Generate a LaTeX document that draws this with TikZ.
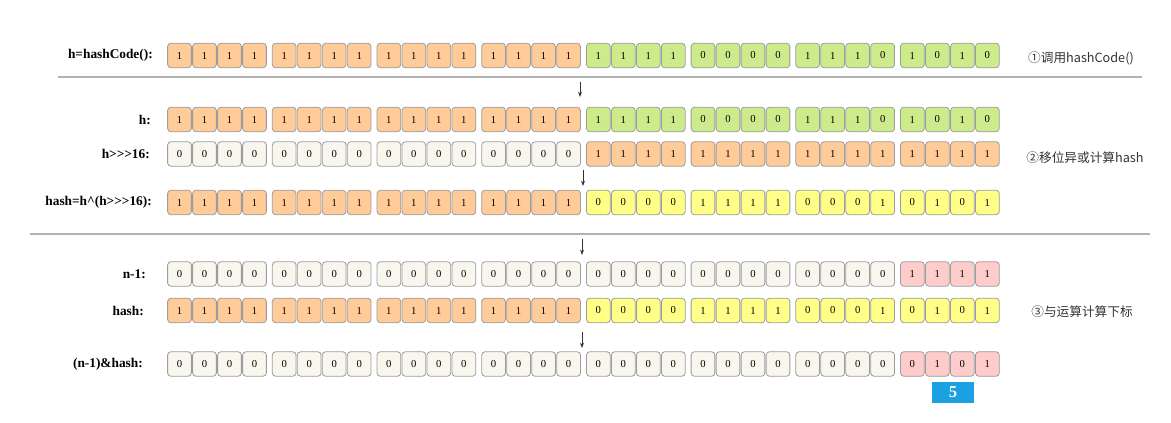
\documentclass[tikz,border=0pt]{standalone}
\usepackage{fontspec}
\setmainfont{Liberation Serif}[Ligatures=TeXOff]
\newfontfamily\cjk{Noto Sans CJK SC}
\usepackage{xcolor}
\definecolor{hmo}{RGB}{255,204,153}
\definecolor{hmg}{RGB}{205,235,139}
\definecolor{hmy}{RGB}{255,255,136}
\definecolor{hmb}{RGB}{249,247,237}
\definecolor{hmp}{RGB}{255,204,204}
\definecolor{hmblue}{RGB}{27,161,226}
\definecolor{hmline}{RGB}{54,57,61}
\usetikzlibrary{arrows.meta,positioning}

\begin{document}
\begin{tikzpicture}[x=0.75pt,y=-0.75pt,
  bitcell/.style={draw=hmline!50,line width=0.6pt,rounded corners=2.5pt,minimum width=17.8pt,minimum height=18.4pt,inner sep=0pt,font=\fontsize{8}{9}\selectfont},
  rowlabel/.style={anchor=east,inner sep=0pt,font=\fontsize{10}{12}\selectfont\bfseries},
  steplabel/.style={inner sep=0pt,text=black!80,font=\cjk\fontsize{9.5}{11}\selectfont},
  sepline/.style={draw=black!30,line width=1.3pt},
  downarrow/.style={-{Stealth[length=4pt,width=3pt]},black!80,line width=0.6pt}]
  \useasboundingbox (0,0) rectangle (1171,423);

  % bit rows: row / y / groups of four (colour/bits)
  \foreach \rw/\yy/\grp in {
    1/55.5/{o/1/1/1/1,o/1/1/1/1,o/1/1/1/1,o/1/1/1/1,g/1/1/1/1,g/0/0/0/0,g/1/1/1/0,g/1/0/1/0},
    2/119.5/{o/1/1/1/1,o/1/1/1/1,o/1/1/1/1,o/1/1/1/1,g/1/1/1/1,g/0/0/0/0,g/1/1/1/0,g/1/0/1/0},
    3/154/{b/0/0/0/0,b/0/0/0/0,b/0/0/0/0,b/0/0/0/0,o/1/1/1/1,o/1/1/1/1,o/1/1/1/1,o/1/1/1/1},
    4/202.5/{o/1/1/1/1,o/1/1/1/1,o/1/1/1/1,o/1/1/1/1,y/0/0/0/0,y/1/1/1/1,y/0/0/0/1,y/0/1/0/1},
    5/274/{b/0/0/0/0,b/0/0/0/0,b/0/0/0/0,b/0/0/0/0,b/0/0/0/0,b/0/0/0/0,b/0/0/0/0,p/1/1/1/1},
    6/310.5/{o/1/1/1/1,o/1/1/1/1,o/1/1/1/1,o/1/1/1/1,y/0/0/0/0,y/1/1/1/1,y/0/0/0/1,y/0/1/0/1},
    7/364/{b/0/0/0/0,b/0/0/0/0,b/0/0/0/0,b/0/0/0/0,b/0/0/0/0,b/0/0/0/0,b/0/0/0/0,p/0/1/0/1}}
  {
    \foreach \c/\bA/\bB/\bC/\bD [count=\g from 0] in \grp {
      \foreach \b [count=\k from 0] in {\bA,\bB,\bC,\bD} {
        \pgfmathtruncatemacro\n{4*\g+\k}
        \pgfmathsetmacro\xx{179.5+\n*25+\g*4.7}
        \node[bitcell,fill=hm\c] (r\rw-\n) at (\xx,\yy) {\b};
      }
    }
  }

  % row labels
  \node[rowlabel] (lab1) at (153,55.5) {h=hashCode():};
  \node[rowlabel] (lab2) at (151,119.5) {h:};
  \node[rowlabel] (lab3) at (150,154) {h>>>16:};
  \node[rowlabel] (lab4) at (152,202.5) {hash=h\textasciicircum(h>>>16):};
  \node[rowlabel] (lab5) at (146,274) {n-1:};
  \node[rowlabel] (lab6) at (144,310.5) {hash:};
  \node[rowlabel] (lab7) at (143,364) {(n-1)\&hash:};

  % steps
  \node[steplabel] (step1) at (1081,58) {①调用hashCode()};
  \node[steplabel] (step2) at (1085,158) {②移位异或计算hash};
  \node[steplabel] (step3) at (1082,312) {③与运算计算下标};

  % separators
  \draw[sepline] (58,77) -- (1142,77);
  \draw[sepline] (30,234) -- (1150,234);

  % arrows
  \coordinate (a1s) at (580,82);  \coordinate (a1e) at (580,97);
  \coordinate (a2s) at (583,170); \coordinate (a2e) at (583,186);
  \coordinate (a3s) at (582,239); \coordinate (a3e) at (582,255);
  \coordinate (a4s) at (582,332); \coordinate (a4e) at (582,348);
  \draw[downarrow] (a1s) -- (a1e);
  \draw[downarrow] (a2s) -- (a2e);
  \draw[downarrow] (a3s) -- (a3e);
  \draw[downarrow] (a4s) -- (a4e);

  % index result
  \node[fill=hmblue,minimum width=31.5pt,minimum height=15.75pt,inner sep=0pt,text=white,font=\fontsize{12.5}{14}\selectfont\bfseries] (idx) at (953,392.5) {5};
\end{tikzpicture}
\end{document}
